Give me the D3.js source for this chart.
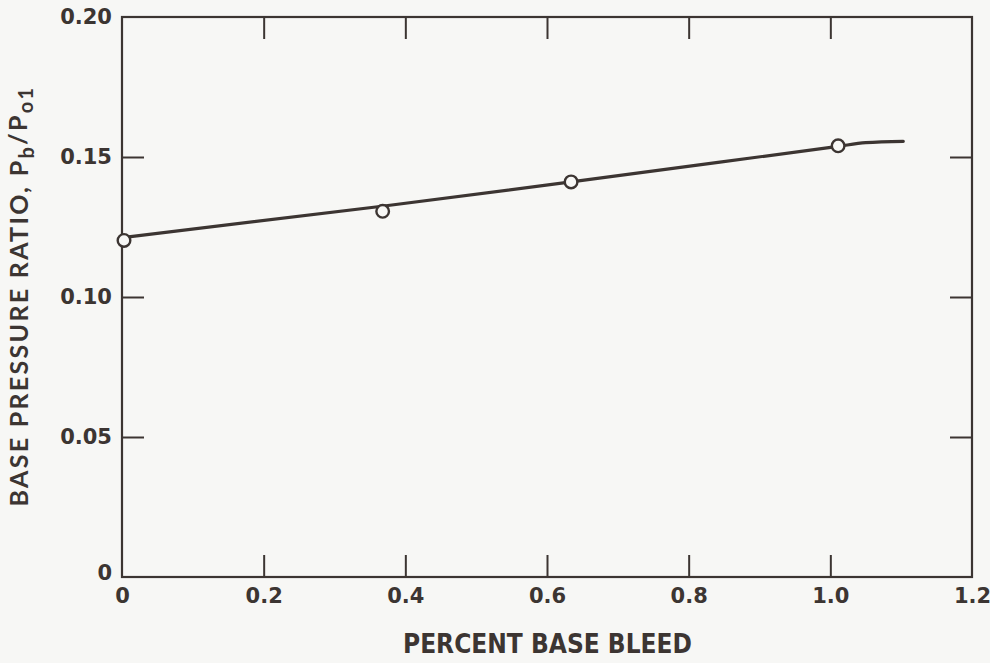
<!DOCTYPE html>
<html>
<head>
<meta charset="utf-8">
<script src="https://cdn.jsdelivr.net/npm/d3@7"></script>
<style>
  html, body { margin: 0; padding: 0; background: #f7f7f5; }
  svg { display: block; }
</style>
</head>
<body>
<svg id="chart" width="990" height="663"></svg>
<script>
// ---- data ----
const bleedPoints = [0.0, 0.368, 0.634, 1.011];          // percent base bleed (measured points)
const ratioPoints = [0.1202, 0.1306, 0.1411, 0.1540];    // Pb/Po1 at the measured points
const curveX = [0.0, 0.37, 0.634, 1.011, 1.05, 1.103];   // faired curve
const curveY = [0.1212, 0.1325, 0.1411, 0.1538, 0.1551, 0.1556];
const xTickValues = [0, 0.2, 0.4, 0.6, 0.8, 1.0, 1.2];
const xTickLabels = ["0", "0.2", "0.4", "0.6", "0.8", "1.0", "1.2"];
const yTickValues = [0, 0.05, 0.10, 0.15, 0.20];
const yTickLabels = ["0", "0.05", "0.10", "0.15", "0.20"];

const ink = "#3c3532";
const bg = "#f7f7f5";
const svg = d3.select("#chart");
svg.append("rect").attr("width", 990).attr("height", 663).attr("fill", bg);

const L = 122, R = 972, T = 17, B = 577;
const x = d3.scaleLinear().domain([0, 1.2]).range([L, R]);
const y = d3.scaleLinear().domain([0, 0.2]).range([B, T]);
const tickLen = 22;
const tickFont = "'DejaVu Sans', sans-serif";
const font = "Lato, 'DejaVu Sans', sans-serif";

// frame
svg.append("rect")
  .attr("x", x(0)).attr("y", y(0.2))
  .attr("width", x(1.2) - x(0)).attr("height", y(0) - y(0.2))
  .attr("fill", "none").attr("stroke", ink).attr("stroke-width", 2.2);

const inner = xTickValues.filter(v => v > 0 && v < 1.2);
const innerY = yTickValues.filter(v => v > 0 && v < 0.2);

// bottom axis (labels + inward ticks)
const gx = svg.append("g").attr("transform", `translate(0,${B})`)
  .call(d3.axisBottom(x).tickValues(xTickValues)
    .tickFormat((d, i) => xTickLabels[i])
    .tickSize(-tickLen).tickSizeOuter(0).tickPadding(11));
gx.select(".domain").remove();
gx.selectAll(".tick line").attr("stroke", ink).attr("stroke-width", 2)
  .attr("display", d => inner.includes(d) ? null : "none");
gx.selectAll(".tick text").attr("fill", ink).style("font-family", tickFont)
  .style("font-size", "21px").style("font-weight", 700);

// top ticks
const gt = svg.append("g").attr("transform", `translate(0,${T})`)
  .call(d3.axisTop(x).tickValues(inner).tickFormat("").tickSize(-tickLen).tickSizeOuter(0));
gt.select(".domain").remove();
gt.selectAll(".tick line").attr("stroke", ink).attr("stroke-width", 2);

// left axis
const gy = svg.append("g").attr("transform", `translate(${L},0)`)
  .call(d3.axisLeft(y).tickValues(yTickValues)
    .tickFormat((d, i) => yTickLabels[i])
    .tickSize(-tickLen).tickSizeOuter(0).tickPadding(10));
gy.select(".domain").remove();
gy.selectAll(".tick line").attr("stroke", ink).attr("stroke-width", 2)
  .attr("display", d => innerY.includes(d) ? null : "none");
gy.selectAll(".tick text").attr("fill", ink).style("font-family", tickFont)
  .style("font-size", "21px").style("font-weight", 700);
gy.selectAll(".tick").filter(d => d === 0).select("text").attr("dy", "0.1em");

// right ticks
const gr = svg.append("g").attr("transform", `translate(${R},0)`)
  .call(d3.axisRight(y).tickValues(innerY).tickFormat("").tickSize(-tickLen).tickSizeOuter(0));
gr.select(".domain").remove();
gr.selectAll(".tick line").attr("stroke", ink).attr("stroke-width", 2);

// curve
const curveData = curveX.map((v, i) => [v, curveY[i]]);
svg.append("path").datum(curveData)
  .attr("d", d3.line().x(d => x(d[0])).y(d => y(d[1])).curve(d3.curveMonotoneX))
  .attr("fill", "none").attr("stroke", ink).attr("stroke-width", 3.2)
  .attr("stroke-linecap", "round");

// points
svg.selectAll("circle.pt").data(bleedPoints.map((v, i) => [v, ratioPoints[i]]))
  .join("circle").attr("class", "pt")
  .attr("cx", d => x(d[0]) + (d[0] === 0 ? 2 : 0)).attr("cy", d => y(d[1]))
  .attr("r", 6.3).attr("fill", bg).attr("stroke", ink).attr("stroke-width", 2.4);

// x label
svg.append("text")
  .attr("x", 547.5).attr("y", 653).attr("text-anchor", "middle")
  .attr("fill", ink)
  .attr("textLength", 289).attr("lengthAdjust", "spacing")
  .style("font-family", "'Liberation Sans Narrow', 'DejaVu Sans Condensed', sans-serif")
  .style("font-size", "26px").style("font-weight", 700)
  .text("PERCENT BASE BLEED");

// y label
const yl = svg.append("text")
  .attr("transform", "translate(28,296) rotate(-90)")
  .attr("text-anchor", "middle").attr("fill", ink)
  .style("font-family", font).style("font-size", "25px").style("font-weight", 700)
  .style("letter-spacing", "2.3px");
yl.append("tspan").text("BASE PRESSURE RATIO, P");
yl.append("tspan").attr("dy", "0.3em").style("font-size", "20px").text("b");
yl.append("tspan").attr("dy", "-0.3em").text("/P");
yl.append("tspan").attr("dy", "0.3em").style("font-size", "20px").text("o1");
</script>
</body>
</html>
